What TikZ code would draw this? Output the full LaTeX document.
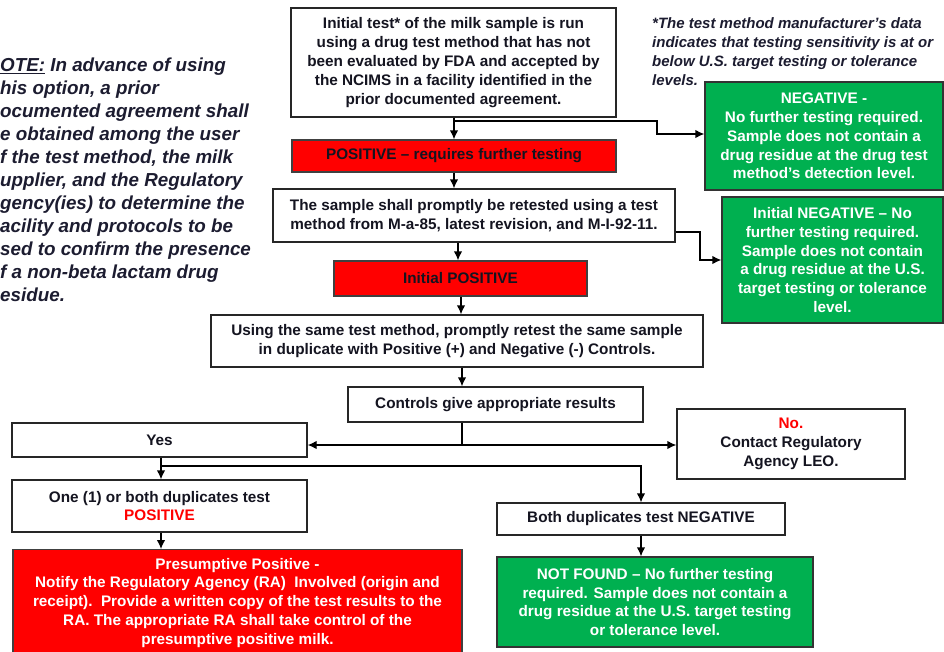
\documentclass[tikz,border=0pt]{standalone}
\usepackage{fontspec}
\setmainfont{Liberation Sans}
\usetikzlibrary{arrows.meta}
\definecolor{boxred}{HTML}{FF0000}
\definecolor{boxgreen}{HTML}{00B050}
\definecolor{inkc}{HTML}{141420}
\definecolor{notec}{HTML}{1C1C30}
\begin{document}
\begin{tikzpicture}[x=1pt,y=-1pt,
  every node/.style={font=\fontsize{15.3}{18.8}\selectfont\bfseries, inner sep=0pt, align=center, text=inkc},
  wbox/.style={draw=black!85, line width=1.3pt, fill=white, rectangle},
  rbox/.style={draw=black!75, line width=1.3pt, fill=boxred, rectangle},
  gbox/.style={draw=black!80, line width=1.3pt, fill=boxgreen, rectangle, text=white},
  conn/.style={draw=black, line width=1.3pt},
  arr/.style={conn, -{Latex[length=9pt,width=8.5pt]}}
]
\useasboundingbox (0,0) rectangle (944,651);
\fill[white] (0,0) rectangle (944,651);

% note text (cropped at left)
\node[anchor=north west, align=left, text=notec, font=\fontsize{18.8}{23}\selectfont\bfseries\itshape] (note) at (0,58)
{\underline{OTE:} In advance of using\\
his option, a prior\\
ocumented agreement shall\\
e obtained among the user\\
f the test method, the milk\\
upplier, and the Regulatory\\
gency(ies) to determine the\\
acility and protocols to be\\
sed to confirm the presence\\
f a non-beta lactam drug\\
esidue.};

% footnote
\node[anchor=north west, align=left, text=notec, font=\fontsize{15}{19}\selectfont\bfseries\itshape] (foot) at (652,17)
{*The test method manufacturer's data\\
indicates that testing sensitivity is at or\\
below U.S. target testing or tolerance\\
levels.};

\node[wbox, minimum width=325, minimum height=109] (top) at (453.5,62.5)
{Initial test* of the milk sample is run\\
using a drug test method that has not\\
been evaluated by FDA and accepted by\\
the NCIMS in a facility identified in the\\
prior documented agreement.};

\node[rbox, minimum width=324, minimum height=32] (pos1) at (454,156)
{POSITIVE -- requires further testing};

\node[gbox, minimum width=238, minimum height=108] (neg1) at (824,136)
{NEGATIVE -\\
No further testing required.\\
Sample does not contain a\\
drug residue at the drug test\\
method's detection level.};

\node[wbox, minimum width=402, minimum height=53] (retest) at (474,215.5)
{The sample shall promptly be retested using a test\\
method from M-a-85, latest revision, and M-I-92-11.};

\node[gbox, minimum width=221, minimum height=126] (neg2) at (832.5,260)
{Initial NEGATIVE -- No\\
further testing required.\\
Sample does not contain\\
a drug residue at the U.S.\\
target testing or tolerance\\
level.};

\node[rbox, minimum width=253, minimum height=35] (initpos) at (460.5,278.5)
{Initial POSITIVE};

\node[wbox, minimum width=492, minimum height=52] (using) at (457,341)
{Using the same test method, promptly retest the same sample\\
in duplicate with Positive (+) and Negative (-) Controls.};

\node[wbox, minimum width=295, minimum height=35] (controls) at (495.5,404.5)
{Controls give appropriate results};

\node[wbox, minimum width=295, minimum height=34] (yes) at (159.5,440)
{Yes};

\node[wbox, minimum width=228, minimum height=70] (no) at (791,444)
{\textcolor{boxred}{No.}\\
Contact Regulatory\\
Agency LEO.};

\node[wbox, minimum width=295, minimum height=52] (one) at (159.5,506)
{One (1) or both duplicates test\\
\textcolor{boxred}{POSITIVE}};

\node[wbox, minimum width=288, minimum height=32] (both) at (641,519)
{Both duplicates test NEGATIVE};

\node[rbox, text=white, minimum width=449, minimum height=106, anchor=north] (presump) at (237.5,549)
{Presumptive Positive -\\
Notify the Regulatory Agency (RA)\ \ Involved (origin and\\
receipt).\ \ Provide a written copy of the test results to the\\
RA. The appropriate RA shall take control of the\\
presumptive positive milk.};

\node[gbox, minimum width=316, minimum height=90] (notfound) at (655,602)
{NOT FOUND -- No further testing\\
required. Sample does not contain a\\
drug residue at the U.S. target testing\\
or tolerance level.};

% connectors
\draw[arr] (top.south -| pos1) -- (pos1.north);
\draw[arr] (top.south -| pos1) |- (657,121) |- (neg1.west |- 0,134);
\draw[arr] (pos1.south) -- (pos1.south |- retest.north);
\draw[arr] (retest.east |- 0,232) -| (700,260) -- (neg2.west |- 0,260);
\draw[arr] (retest.south -| 458,0) -- (initpos.north -| 458,0);
\draw[arr] (initpos.south -| 461,0) -- (using.north -| 461,0);
\draw[arr] (using.south -| 462,0) -- (controls.north -| 462,0);
\draw[conn] (controls.south -| 462,0) -- (462,445);
\draw[arr] (462,445) -- (yes.east |- 0,445);
\draw[arr] (462,445) -- (no.west |- 0,445);
\draw[arr] (yes.south -| 161,0) -- (one.north -| 161,0);
\draw[arr] (161,466) -| (both.north -| 641,0);
\draw[arr] (one.south -| 161,0) -- (presump.north -| 161,0);
\draw[arr] (both.south -| 641,0) -- (notfound.north -| 641,0);
\end{tikzpicture}
\end{document}
